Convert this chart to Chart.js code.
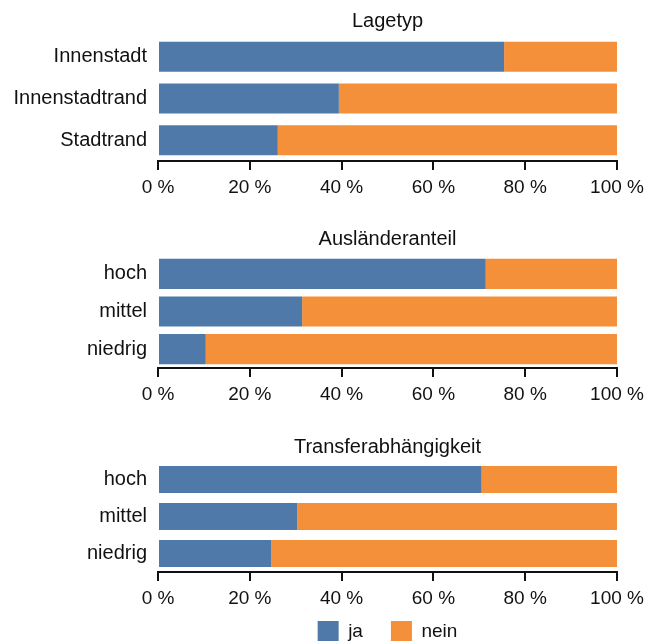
<!DOCTYPE html>
<html>
<head>
<meta charset="utf-8">
<script src="https://cdn.jsdelivr.net/npm/chart.js@4"></script>
<style>
  html, body { margin: 0; padding: 0; background: #fff; }
  body { width: 655px; height: 641px; position: relative; overflow: hidden; }
  .panel { position: absolute; left: 0; width: 655px; }
</style>
</head>
<body>
<div class="panel" style="top:0;height:201px"><canvas id="lage"></canvas></div>
<div class="panel" style="top:201px;height:207px"><canvas id="auslaender"></canvas></div>
<div class="panel" style="top:408px;height:204px"><canvas id="transfer"></canvas></div>
<div class="panel" style="top:593px;height:120px"><canvas id="legende"></canvas></div>
<script>
// Anteil ja/nein in Prozent
const seriesNames = ["ja", "nein"];
const xTicks = [0, 20, 40, 60, 80, 100];

const lageCategories = ["Innenstadt", "Innenstadtrand", "Stadtrand"];
const lageJa = [75.4, 39.4, 26.1];
const lageNein = [24.6, 60.6, 73.9];

const auslCategories = ["hoch", "mittel", "niedrig"];
const auslJa = [71.4, 31.4, 10.4];
const auslNein = [28.6, 68.6, 89.6];

const transferCategories = ["hoch", "mittel", "niedrig"];
const transferJa = [70.5, 30.3, 24.7];
const transferNein = [29.5, 69.7, 75.3];

const blue = "#4e79a9";
const orange = "#f5903a";
const font = "'Liberation Sans', Arial, sans-serif";

function makePanel(id, title, labels, ja, nein, opts) {
  const ctx = document.getElementById(id).getContext("2d");
  return new Chart(ctx, {
    type: "bar",
    data: {
      labels: labels,
      datasets: [
        { label: seriesNames[0], data: ja, backgroundColor: blue },
        { label: seriesNames[1], data: nein, backgroundColor: orange }
      ]
    },
    options: {
      indexAxis: "y",
      responsive: true,
      maintainAspectRatio: false,
      animation: false,
      layout: { padding: { left: 0, right: 38, top: 0, bottom: 0 } },
      datasets: { bar: { barPercentage: 1, categoryPercentage: opts.catPct } },
      scales: {
        x: {
          stacked: true,
          min: 0,
          max: 100,
          afterBuildTicks: s => { s.ticks = xTicks.map(v => ({ value: v })); },
          afterFit: s => { s.height = 40; },
          grid: { display: true, drawOnChartArea: false, drawTicks: true, tickLength: 9, color: "#111", lineWidth: 2 },
          border: { display: true, color: "#111", width: 2 },
          ticks: {
            color: "#111",
            padding: 6,
            maxRotation: 0,
            font: { family: font, size: 19 },
            callback: v => v + " %"
          }
        },
        y: {
          stacked: true,
          afterFit: s => { s.width = 158; },
          grid: { display: false, drawTicks: false },
          border: { display: false },
          ticks: { color: "#111", padding: 11, font: { family: font, size: 20 } }
        }
      },
      plugins: {
        title: {
          display: true,
          text: title,
          fullSize: false,
          color: "#111",
          font: { family: font, size: 20, weight: "normal" },
          padding: opts.titlePad
        },
        legend: { display: false },
        tooltip: { enabled: false }
      }
    }
  });
}

makePanel("lage", "Lagetyp", lageCategories, lageJa, lageNein,
  { catPct: 0.72, titlePad: { top: 9, bottom: 3 } });
makePanel("auslaender", "Ausländeranteil", auslCategories, auslJa, auslNein,
  { catPct: 0.8, titlePad: { top: 26, bottom: 4 } });
makePanel("transfer", "Transferabhängigkeit", transferCategories, transferJa, transferNein,
  { catPct: 0.73, titlePad: { top: 27, bottom: 2 } });

// gemeinsame Legende unten
new Chart(document.getElementById("legende").getContext("2d"), {
  type: "bar",
  data: {
    labels: [""],
    datasets: [
      { label: seriesNames[0], data: [null], backgroundColor: blue },
      { label: seriesNames[1], data: [null], backgroundColor: orange }
    ]
  },
  options: {
    responsive: true,
    maintainAspectRatio: false,
    animation: false,
    layout: { padding: { left: 158, right: 38, top: 0, bottom: 0 } },
    scales: { x: { display: false }, y: { display: false } },
    plugins: {
      legend: {
        position: "top",
        fullSize: false,
        maxHeight: 100,
        labels: {
          color: "#111",
          font: { family: font, size: 19 },
          boxWidth: 21,
          boxHeight: 21,
          padding: 28
        }
      },
      tooltip: { enabled: false }
    }
  }
});
</script>
</body>
</html>
